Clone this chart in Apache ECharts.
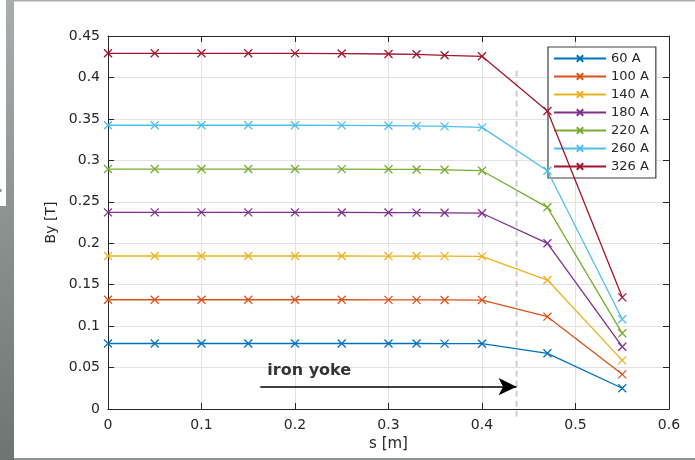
<!DOCTYPE html>
<html>
<head>
<meta charset="utf-8">
<style>
  html, body { margin: 0; padding: 0; background: #ffffff; }
  #chart { width: 695px; height: 460px; }
</style>
<script src="https://cdn.jsdelivr.net/npm/echarts@6/dist/echarts.min.js"></script>
</head>
<body>
<div id="chart"></div>
<script>
// Position along the path, in metres
const s = [0, 0.05, 0.1, 0.15, 0.2, 0.25, 0.3, 0.33, 0.36, 0.4, 0.47, 0.55];

// Flux density By [T] for each coil current
const by60  = [0.0790, 0.0790, 0.0790, 0.0790, 0.0790, 0.0790, 0.0790, 0.0790, 0.0789, 0.0788, 0.0672, 0.0250];
const by100 = [0.1318, 0.1318, 0.1318, 0.1318, 0.1318, 0.1318, 0.1317, 0.1317, 0.1316, 0.1314, 0.1114, 0.0418];
const by140 = [0.1846, 0.1846, 0.1846, 0.1846, 0.1846, 0.1846, 0.1845, 0.1845, 0.1844, 0.1841, 0.1556, 0.0587];
const by180 = [0.2372, 0.2372, 0.2372, 0.2372, 0.2372, 0.2371, 0.2370, 0.2369, 0.2367, 0.2362, 0.1999, 0.0752];
const by220 = [0.2895, 0.2895, 0.2895, 0.2895, 0.2895, 0.2894, 0.2892, 0.2890, 0.2886, 0.2875, 0.2433, 0.0913];
const by260 = [0.3423, 0.3423, 0.3423, 0.3423, 0.3423, 0.3422, 0.3418, 0.3415, 0.3410, 0.3398, 0.2875, 0.1082];
const by326 = [0.4291, 0.4291, 0.4291, 0.4291, 0.4290, 0.4288, 0.4283, 0.4279, 0.4267, 0.4255, 0.3595, 0.1347];

const seriesNames = ['60 A', '100 A', '140 A', '180 A', '220 A', '260 A', '326 A'];
const seriesValues = [by60, by100, by140, by180, by220, by260, by326];
const seriesColors = ['#0072BD', '#D95319', '#EDB120', '#7E2F8E', '#77AC30', '#4DBEEE', '#A2142F'];

// Iron yoke boundary and annotation
const yokeEdge = 0.437;
const yokeLineSpan = [0.408, -0.013];
const arrowFrom = [0.1629, 0.0269];
const arrowTo = [0.437, 0.0269];
const yokeLabelAt = [0.1704, 0.0458];
const yokeLabel = 'iron yoke';

const FONT = 'DejaVu Sans';
const INK = '#262626';
const GRID = '#e2e2e2';
const CROSS = 'path://M0,0L10,10M10,0L0,10';

const chart = echarts.init(document.getElementById('chart'), null, { renderer: 'canvas' });

const lineSeries = seriesNames.map((name, i) => ({
  name: name,
  type: 'line',
  xAxisIndex: 0,
  yAxisIndex: 0,
  data: s.map((x, k) => [x, seriesValues[i][k]]),
  symbol: CROSS,
  symbolSize: 8,
  showSymbol: true,
  lineStyle: { color: seriesColors[i], width: 1.3 },
  itemStyle: { color: seriesColors[i], borderColor: seriesColors[i], borderWidth: 1.3 },
  emphasis: { disabled: true },
  z: 3 + i
}));

const boxAxis = {
  min: 0,
  axisLine: { show: true, onZero: false, lineStyle: { color: INK, width: 1 } },
  axisTick: { show: true, inside: true, length: 6, lineStyle: { color: INK } },
  axisLabel: { show: false },
  splitLine: { show: false }
};

const option = {
  animation: false,
  backgroundColor: '#ffffff',
  textStyle: { fontFamily: FONT },
  grid: { left: 108, right: 26, top: 36, bottom: 51, containLabel: false },
  legend: {
    data: seriesNames,
    orient: 'vertical',
    left: 548,
    top: 47,
    itemWidth: 52,
    itemHeight: 8,
    itemGap: 5,
    padding: [5, 7, 5, 5],
    backgroundColor: '#ffffff',
    borderColor: '#404040',
    borderWidth: 1.2,
    borderRadius: 0,
    textStyle: { fontFamily: FONT, fontSize: 13, color: INK },
    selectedMode: false
  },
  xAxis: [
    {
      type: 'value',
      min: 0, max: 0.6, interval: 0.1,
      name: 's [m]',
      nameLocation: 'middle',
      nameGap: 27,
      nameTextStyle: { fontFamily: FONT, fontSize: 15, color: INK },
      axisLine: { show: true, onZero: false, lineStyle: { color: INK, width: 1 } },
      axisTick: { show: true, inside: true, length: 6, lineStyle: { color: INK } },
      axisLabel: { fontFamily: FONT, fontSize: 14, color: INK, margin: 9 },
      splitLine: { show: true, lineStyle: { color: GRID, width: 1 } }
    },
    Object.assign({ type: 'value', position: 'top', max: 0.6, interval: 0.1 }, boxAxis)
  ],
  yAxis: [
    {
      type: 'value',
      min: 0, max: 0.45, interval: 0.05,
      name: 'By [T]',
      nameLocation: 'middle',
      nameGap: 45,
      nameTextStyle: { fontFamily: FONT, fontSize: 14, color: INK },
      axisLine: { show: true, onZero: false, lineStyle: { color: INK, width: 1 } },
      axisTick: { show: true, inside: true, length: 6, lineStyle: { color: INK } },
      axisLabel: { fontFamily: FONT, fontSize: 14, color: INK, margin: 8 },
      splitLine: { show: true, lineStyle: { color: GRID, width: 1 } }
    },
    Object.assign({ type: 'value', position: 'right', max: 0.45, interval: 0.05 }, boxAxis)
  ],
  series: lineSeries.concat([
    {
      name: 'yoke edge',
      type: 'line',
      data: yokeLineSpan.map(v => [yokeEdge, v]),
      symbol: 'none',
      clip: false,
      silent: true,
      lineStyle: { color: '#cfcfcf', width: 2, type: [6, 4] },
      z: 1
    },
    {
      name: 'yoke note',
      type: 'scatter',
      data: [yokeLabelAt],
      symbolSize: 0,
      silent: true,
      label: {
        show: true,
        position: 'right',
        distance: 0,
        formatter: yokeLabel,
        fontFamily: FONT,
        fontSize: 16,
        fontWeight: 'bold',
        color: '#000000'
      },
      markLine: {
        silent: true,
        symbol: ['none', 'arrow'],
        symbolSize: [13, 18],
        label: { show: false },
        lineStyle: { color: '#000000', width: 1.6, type: 'solid' },
        data: [[{ coord: arrowFrom }, { coord: arrowTo }]]
      },
      z: 10
    }
  ]),
  graphic: [
    // figure frame: grey strip on the left with a small white tab, thin rules top and bottom
    {
      type: 'rect', left: 0, top: 0, silent: true, z: 100,
      shape: { width: 14, height: 460 },
      style: {
        fill: new echarts.graphic.LinearGradient(0, 0, 0, 1, [
          { offset: 0, color: '#a7aeab' },
          { offset: 1, color: '#6d7472' }
        ])
      }
    },
    { type: 'rect', left: 0, top: 0, silent: true, z: 101, shape: { width: 6, height: 206 }, style: { fill: '#ffffff' } },
    { type: 'rect', left: 0, top: 189, silent: true, z: 102, shape: { width: 1.5, height: 3 }, style: { fill: '#8a908e' } },
    { type: 'rect', left: 14, top: 0, silent: true, z: 100, shape: { width: 681, height: 1.5 }, style: { fill: '#a9adab' } },
    { type: 'rect', left: 14, top: 458, silent: true, z: 100, shape: { width: 681, height: 2 }, style: { fill: '#8f9391' } }
  ]
};

chart.setOption(option);
</script>
</body>
</html>
